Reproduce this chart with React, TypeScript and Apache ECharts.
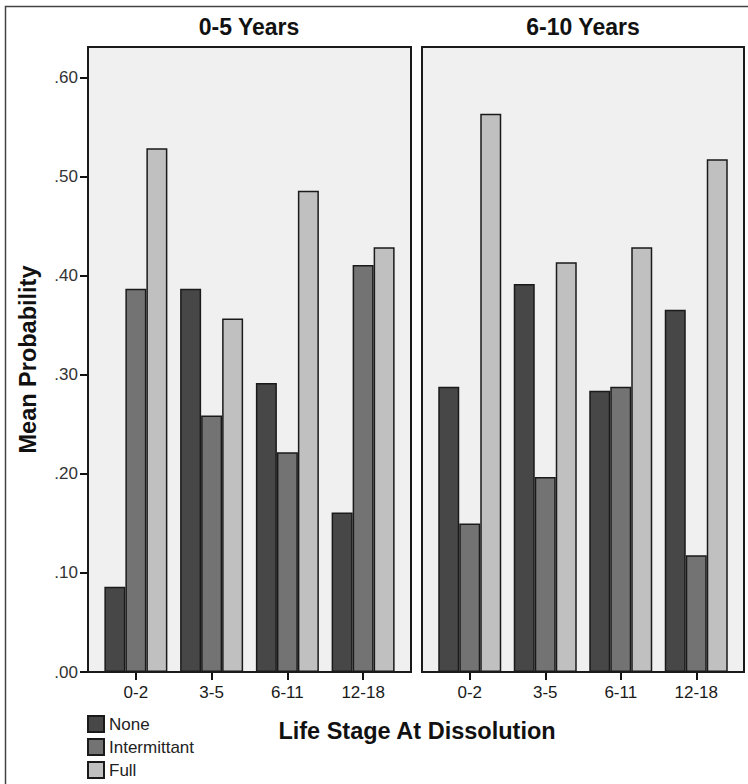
import React, { useEffect, useRef } from "react";
import * as echarts from "echarts";

const categories = ["0-2", "3-5", "6-11", "12-18"];
const seriesNames = ["None", "Intermittant", "Full"];
const panelTitles = ["0-5 Years", "6-10 Years"];

const none05 = [0.086, 0.387, 0.292, 0.161];
const intermittant05 = [0.387, 0.259, 0.222, 0.411];
const full05 = [0.529, 0.357, 0.486, 0.429];

const none610 = [0.288, 0.392, 0.284, 0.366];
const intermittant610 = [0.15, 0.197, 0.288, 0.118];
const full610 = [0.564, 0.414, 0.429, 0.518];

const yTicks = [0, 0.1, 0.2, 0.3, 0.4, 0.5, 0.6];

const FONT = "Liberation Sans, Arial, sans-serif";
const colors = ["#474747", "#737373", "#c0c0c0"];

export default function App() {
  const ref = useRef<HTMLDivElement>(null);

  useEffect(() => {
    if (!ref.current) return;
    const chart = echarts.init(ref.current, null, { renderer: "svg" });

    const panels = [
      [none05, intermittant05, full05],
      [none610, intermittant610, full610],
    ];

    const series: any[] = [];
    panels.forEach((panel, p) => {
      panel.forEach((vals, i) => {
        series.push({
          type: "bar",
          name: seriesNames[i],
          xAxisIndex: p,
          yAxisIndex: p,
          data: vals,
          barWidth: 21,
          barGap: "0%",
          itemStyle: { color: colors[i], borderColor: "#1a1a1a", borderWidth: 1.5 },
          z: 5,
        });
      });
    });

    const xAxisCommon = (idx: number) => ({
      gridIndex: idx,
      type: "category",
      data: categories,
      axisLine: { show: false },
      axisTick: {
        show: true,
        alignWithLabel: true,
        length: 8,
        lineStyle: { color: "#111", width: 2 },
      },
      axisLabel: { fontSize: 17, color: "#1a1a1a", margin: 12, fontFamily: FONT },
      splitLine: { show: false },
    });

    const titleStyle = (text: string) => ({
      text,
      fontSize: 23,
      fontWeight: "bold",
      fontFamily: FONT,
      fill: "#111",
      align: "center",
      verticalAlign: "middle",
      textAlign: "center",
      textVerticalAlign: "middle",
    });

    const option: any = {
      animation: false,
      backgroundColor: "#ffffff",
      grid: [
        { left: 98, top: 47, width: 303, height: 625 },
        { left: 432, top: 47, width: 302, height: 625 },
      ],
      xAxis: [xAxisCommon(0), xAxisCommon(1)],
      yAxis: [
        {
          gridIndex: 0,
          type: "value",
          min: 0,
          max: 0.6313,
          interval: 0.1,
          offset: 10,
          axisLine: { show: true, lineStyle: { color: "#111", width: 2 } },
          axisTick: {
            show: true,
            length: 8,
            customValues: yTicks,
            lineStyle: { color: "#111", width: 2 },
          },
          axisLabel: {
            customValues: yTicks,
            formatter: (v: number) => v.toFixed(2).replace(/^0/, ""),
            fontSize: 17,
            color: "#333",
            margin: 10,
            fontFamily: FONT,
          },
          splitLine: { show: false },
          name: "Mean Probability",
          nameLocation: "middle",
          nameGap: 48,
          nameTextStyle: { fontSize: 23.5, fontWeight: "bold", color: "#111", fontFamily: FONT },
        },
        {
          gridIndex: 1,
          type: "value",
          min: 0,
          max: 0.6313,
          interval: 0.1,
          axisLine: { show: false },
          axisTick: { show: false },
          axisLabel: { show: false },
          splitLine: { show: false },
        },
      ],
      legend: {
        data: seriesNames,
        orient: "vertical",
        left: 87,
        top: 715,
        itemWidth: 16,
        itemHeight: 16,
        itemGap: 5,
        icon: "rect",
        padding: 0,
        textStyle: { fontSize: 17, color: "#222", fontFamily: FONT },
        selectedMode: false,
      },
      graphic: [
        {
          type: "rect",
          silent: true,
          z: 0,
          shape: { x: 5.5, y: 6.5, width: 800, height: 800 },
          style: { fill: "none", stroke: "#444", lineWidth: 1.5 },
        },
        {
          type: "rect",
          silent: true,
          z: 0,
          shape: { x: 88, y: 47, width: 323, height: 625 },
          style: { fill: "#f0f0f0", stroke: "none" },
        },
        {
          type: "rect",
          silent: true,
          z: 0,
          shape: { x: 422, y: 47, width: 322, height: 625 },
          style: { fill: "#f0f0f0", stroke: "none" },
        },
        {
          type: "rect",
          silent: true,
          z: 20,
          shape: { x: 88, y: 47, width: 323, height: 625 },
          style: { fill: "none", stroke: "#1a1a1a", lineWidth: 2 },
        },
        {
          type: "rect",
          silent: true,
          z: 20,
          shape: { x: 422, y: 47, width: 322, height: 625 },
          style: { fill: "none", stroke: "#1a1a1a", lineWidth: 2 },
        },
        { type: "text", silent: true, z: 20, x: 249, y: 27, style: titleStyle(panelTitles[0]) },
        { type: "text", silent: true, z: 20, x: 583, y: 27, style: titleStyle(panelTitles[1]) },
        {
          type: "text",
          silent: true,
          z: 20,
          x: 417,
          y: 731,
          style: {
            text: "Life Stage At Dissolution",
            fontSize: 23.5,
            fontWeight: "bold",
            fontFamily: FONT,
            fill: "#111",
            align: "center",
            verticalAlign: "middle",
            textAlign: "center",
            textVerticalAlign: "middle",
          },
        },
      ],
      series,
    };

    chart.setOption(option);
    return () => chart.dispose();
  }, []);

  return (
    <div
      ref={ref}
      style={{ position: "fixed", left: 0, top: 0, width: 748, height: 784, background: "#fff" }}
    />
  );
}
